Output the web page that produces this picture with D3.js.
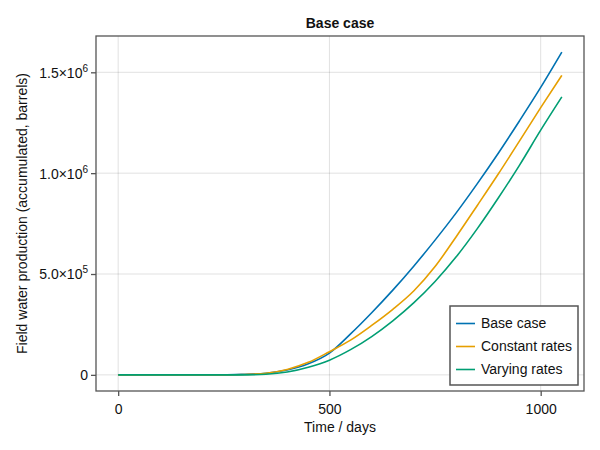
<!DOCTYPE html>
<html>
<head>
<meta charset="utf-8">
<script src="https://cdn.jsdelivr.net/npm/d3@7"></script>
<style>
  body { margin: 0; background: #fff; }
  svg { font-family: "Liberation Sans", Arial, sans-serif; }
</style>
</head>
<body>
<div class="canvas"></div>
<script>
// time in days, production in barrels
const days = [0, 50, 100, 150, 200, 250, 300, 350, 400, 450, 500, 550,
  600, 650, 700, 750, 800, 850, 900, 950, 1000, 1050];
const baseCase = [0, 0, 0, 0, 0, 0, 3000, 8000, 24000, 55000, 108000, 203000,
  308000, 420000, 540000, 668000, 803000, 948000, 1100000, 1260000, 1425000, 1600000];
const constantRates = [0, 0, 0, 0, 0, 0, 2000, 8000, 27000, 62000, 115000, 172000,
  245000, 325000, 417000, 537000, 685000, 840000, 997000, 1160000, 1325000, 1485000];
const varyingRates = [0, 0, 0, 0, 0, 0, 0, 3000, 14000, 38000, 73000, 125000,
  190000, 268000, 358000, 463000, 585000, 725000, 878000, 1040000, 1213000, 1378000];

const seriesNames = ["Base case", "Constant rates", "Varying rates"];
const seriesColors = ["#0072b2", "#e69f00", "#009e73"];
const xTicks = [0, 500, 1000];
const yTicks = [0, 500000, 1000000, 1500000];
const yTickLabels = [["0", ""], ["5.0×10", "5"], ["1.0×10", "6"], ["1.5×10", "6"]];

const series = [baseCase, constantRates, varyingRates];

const W = 600, H = 450;
const margin = { top: 36, right: 16, bottom: 59, left: 96 };
const width = W - margin.left - margin.right;
const height = H - margin.top - margin.bottom;

const svg = d3.select(".canvas").append("svg")
  .attr("width", W).attr("height", H);

const chart = svg.append("g")
  .attr("transform", `translate(${margin.left}, ${margin.top})`);

const xPad = (d3.max(days) - d3.min(days)) * 0.05;
const yMax = d3.max(series.flat());
const yPad = yMax * 0.05;

const x = d3.scaleLinear()
  .domain([d3.min(days) - xPad, d3.max(days) + xPad])
  .range([0, width]);
const y = d3.scaleLinear()
  .domain([-yPad, yMax + yPad])
  .range([height, 0]);

// grid
chart.append("g").selectAll("line").data(xTicks).enter().append("line")
  .attr("x1", (d) => x(d)).attr("x2", (d) => x(d))
  .attr("y1", 0).attr("y2", height)
  .attr("stroke", "rgba(0,0,0,0.12)").attr("stroke-width", 1);
chart.append("g").selectAll("line").data(yTicks).enter().append("line")
  .attr("y1", (d) => y(d)).attr("y2", (d) => y(d))
  .attr("x1", 0).attr("x2", width)
  .attr("stroke", "rgba(0,0,0,0.12)").attr("stroke-width", 1);

// lines
const line = d3.line()
  .x((d, i) => x(days[i]))
  .y((d) => y(d))
  .curve(d3.curveMonotoneX);

chart.selectAll(".series").data(series).enter().append("path")
  .attr("class", "series")
  .attr("d", (d) => line(d))
  .attr("fill", "none")
  .attr("stroke", (d, i) => seriesColors[i])
  .attr("stroke-width", 1.6);

// frame
chart.append("rect")
  .attr("x", 0).attr("y", 0).attr("width", width).attr("height", height)
  .attr("fill", "none").attr("stroke", "#555").attr("stroke-width", 1.3);

// axes
const xAxis = d3.axisBottom(x).tickValues(xTicks).tickSize(5)
  .tickSizeOuter(0).tickFormat(d3.format("d"));
const gx = chart.append("g")
  .attr("transform", `translate(0, ${height})`)
  .call(xAxis);
gx.select(".domain").remove();
gx.selectAll(".tick line").attr("stroke", "#555").attr("stroke-width", 1.3);
gx.selectAll(".tick text")
  .attr("font-size", 14).attr("fill", "#111").attr("dy", "1.05em");

const yAxis = d3.axisLeft(y).tickValues(yTicks).tickSize(5).tickFormat("");
const gy = chart.append("g").call(yAxis);
gy.select(".domain").remove();
gy.selectAll(".tick line").attr("stroke", "#555").attr("stroke-width", 1.3);
gy.selectAll(".tick text").each(function (d, i) {
  const t = d3.select(this)
    .attr("font-size", 14).attr("fill", "#111")
    .attr("x", -8).attr("dy", "0.35em").attr("text-anchor", "end");
  const lab = yTickLabels[i];
  t.append("tspan").text(lab[0]);
  if (lab[1]) {
    t.append("tspan").attr("font-size", 10).attr("dy", "-0.6em").text(lab[1]);
  }
});

// labels
svg.append("text")
  .attr("x", margin.left + width / 2).attr("y", 28)
  .attr("text-anchor", "middle").attr("font-size", 14).attr("font-weight", "bold")
  .attr("fill", "#111").text("Base case");

svg.append("text")
  .attr("x", margin.left + width / 2).attr("y", 432)
  .attr("text-anchor", "middle").attr("font-size", 14)
  .attr("fill", "#111").text("Time / days");

svg.append("text")
  .attr("transform", `translate(27, ${margin.top + height / 2}) rotate(-90)`)
  .attr("text-anchor", "middle").attr("font-size", 14)
  .attr("fill", "#111").text("Field water production (accumulated, barrels)");

// legend
const legend = svg.append("g").attr("transform", "translate(450, 306)");
legend.append("rect")
  .attr("width", 128).attr("height", 79)
  .attr("fill", "#fff").attr("stroke", "#555").attr("stroke-width", 1.5);
const rows = legend.selectAll(".row").data(seriesNames).enter().append("g")
  .attr("class", "row")
  .attr("transform", (d, i) => `translate(0, ${17.5 + i * 23})`);
rows.append("line")
  .attr("x1", 6).attr("x2", 25)
  .attr("stroke", (d, i) => seriesColors[i]).attr("stroke-width", 1.6);
rows.append("text")
  .attr("x", 31).attr("dy", "0.35em").attr("font-size", 14).attr("fill", "#111")
  .text((d) => d);
</script>
</body>
</html>
